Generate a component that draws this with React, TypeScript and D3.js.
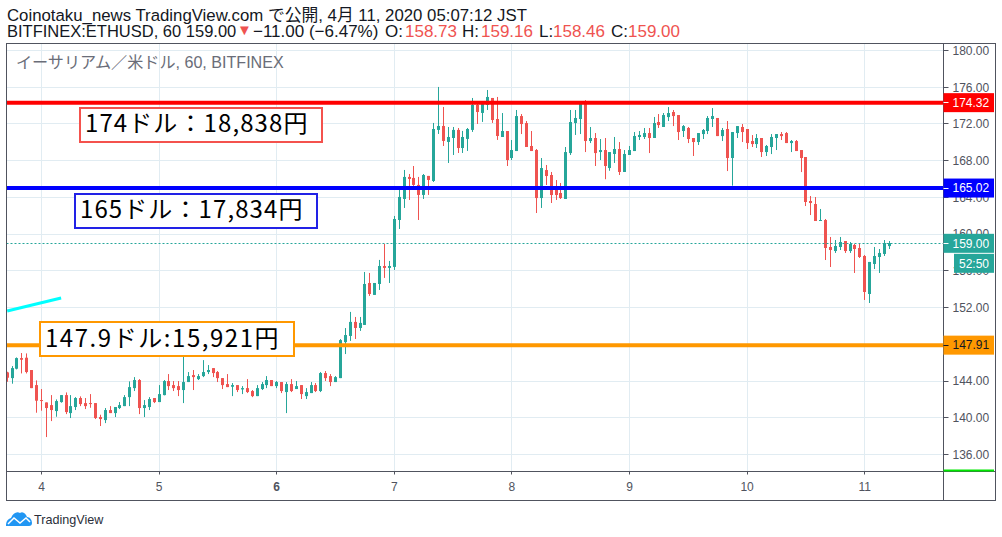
import * as d3 from 'd3'

// hourly ETHUSD candles, first one sits 7 bars left of the "4" tick
const firstBar = -7

const opens = [
  144.94, 144.32, 145.34, 146.5, 146.54, 145.2, 143.56, 141.93, 141.67, 141.38,
  140.73, 141.71, 142.47, 140.51, 141.17, 142.15, 141.6, 141.6, 141.6, 140.08,
  139.75, 140.84, 140.51, 141.06, 141.27, 142.25, 143.23, 144.11, 141.06, 141.17,
  142.15, 141.71, 142.47, 144.0, 143.56, 143.45, 143.02, 143.89, 144.65, 144.21,
  144.54, 144.98, 145.41, 144.98, 144.32, 143.67, 143.38, 143.56, 143.09, 143.23,
  142.91, 142.36, 143.13, 143.56, 144.11, 143.45, 143.89, 142.8, 143.67, 143.13,
  143.56, 142.36, 142.69, 143.56, 142.91, 144.87, 144.54, 143.89, 144.32, 148.24,
  148.91, 150.44, 149.78, 150.11, 154.68, 153.38, 154.57, 156.53, 156.32, 156.43,
  161.54, 163.83, 166.23, 166.12, 165.36, 164.27, 166.34, 165.79, 171.35, 171.78,
  170.04, 170.47, 171.35, 169.38, 170.37, 171.35, 174.07, 173.2, 174.07, 174.83,
  172.54, 170.58, 171.23, 168.29, 169.05, 172.86, 172.1, 169.6, 169.16, 163.93,
  166.98, 166.44, 164.81, 164.48, 163.83, 168.83, 172.1, 172.54, 174.28, 170.14,
  170.47, 168.94, 169.16, 167.2, 168.73, 169.27, 166.77, 168.62, 169.05, 170.58,
  170.58, 171.01, 170.47, 172.21, 171.67, 172.75, 173.3, 172.97, 171.23, 171.56,
  170.47, 170.03, 170.9, 171.23, 172.54, 172.65, 170.68, 171.45, 168.29, 171.01,
  171.67, 171.45, 170.14, 169.81, 170.47, 168.94, 169.49, 170.47, 170.9, 171.01,
  169.92, 170.14, 169.16, 168.4, 163.61, 163.28, 161.43, 161.54, 158.6, 158.16,
  158.6, 159.25, 158.16, 158.82, 158.49, 157.62, 153.48, 156.75, 157.51, 157.84, 158.7,
]

const closes = [
  144.36, 145.41, 146.5, 146.32, 144.98, 143.23, 141.86, 141.86, 141.06, 140.84,
  141.82, 142.47, 140.62, 141.27, 142.15, 141.49, 141.27, 141.49, 139.97, 139.86,
  140.84, 140.51, 141.17, 141.38, 142.25, 143.34, 144.11, 141.06, 141.38, 142.04,
  141.71, 142.58, 144.0, 143.45, 143.23, 143.02, 143.89, 144.54, 144.43, 144.54,
  144.98, 145.2, 144.87, 144.32, 143.56, 143.34, 143.56, 143.02, 143.23, 142.8,
  142.36, 143.23, 143.67, 144.11, 143.45, 143.89, 142.91, 143.67, 142.91, 143.45,
  142.58, 142.8, 143.56, 142.91, 144.87, 144.32, 143.89, 144.43, 148.46, 149.01,
  150.44, 149.78, 150.33, 154.57, 153.48, 154.68, 156.53, 156.32, 156.53, 161.65,
  164.05, 166.23, 166.01, 165.36, 164.27, 166.44, 165.9, 171.45, 171.78, 170.15,
  170.58, 171.35, 169.38, 170.58, 171.45, 174.07, 173.3, 174.18, 174.94, 172.43,
  170.69, 171.23, 168.07, 169.16, 172.86, 171.99, 169.49, 169.05, 163.93, 167.2,
  166.33, 164.26, 164.26, 163.93, 168.94, 172.21, 172.65, 174.28, 170.14, 170.47,
  168.83, 169.16, 167.42, 168.94, 169.27, 166.77, 168.73, 169.16, 170.69, 170.8,
  171.01, 170.47, 172.1, 171.88, 172.97, 173.19, 172.86, 171.12, 171.77, 170.36,
  170.03, 171.01, 171.34, 172.65, 172.86, 170.68, 171.34, 168.29, 171.12, 171.77,
  171.12, 169.92, 169.81, 170.47, 168.94, 169.6, 170.58, 170.9, 170.68, 169.92,
  170.14, 169.05, 168.29, 163.5, 163.39, 161.43, 161.54, 158.49, 158.27, 158.71,
  159.14, 158.16, 158.93, 158.38, 157.51, 153.7, 156.97, 157.62, 157.95, 159.03, 159.03,
]

const highs = [
  145.01, 145.63, 146.57, 147.05, 147.01, 145.2, 144.07, 143.13, 141.67, 142.47,
  142.0, 142.47, 142.76, 142.47, 142.25, 142.33, 142.15, 142.58, 141.6, 140.33,
  141.06, 141.27, 141.17, 141.71, 142.47, 143.96, 144.43, 144.21, 141.93, 142.25,
  142.15, 143.56, 144.11, 144.76, 144.0, 144.0, 146.65, 144.98, 145.2, 144.76,
  146.28, 145.74, 145.41, 145.09, 144.32, 144.76, 143.78, 143.56, 143.45, 144.21,
  143.02, 143.56, 143.89, 144.54, 144.11, 144.0, 143.89, 143.89, 144.21, 144.0,
  143.56, 143.23, 143.89, 143.78, 144.98, 145.09, 144.76, 144.54, 148.57, 149.77,
  151.53, 150.98, 150.98, 155.88, 155.77, 154.68, 157.19, 158.93, 157.08, 161.98,
  164.81, 166.99, 166.55, 167.42, 166.23, 166.55, 166.34, 172.11, 176.03, 173.85,
  171.67, 171.67, 171.56, 171.24, 171.56, 174.83, 174.5, 174.29, 175.7, 174.83,
  174.94, 173.19, 171.23, 170.25, 173.52, 173.08, 172.32, 171.23, 169.27, 168.29,
  167.53, 166.77, 165.89, 165.57, 169.49, 173.52, 173.52, 174.28, 174.6, 171.67,
  171.01, 170.36, 170.47, 168.94, 170.58, 170.03, 169.16, 169.6, 171.12, 171.23,
  171.56, 171.56, 172.76, 173.08, 173.19, 173.84, 173.52, 172.97, 171.88, 171.67,
  170.47, 171.01, 171.45, 172.86, 173.73, 172.65, 171.56, 172.32, 171.12, 171.77,
  171.99, 171.45, 170.79, 170.9, 170.47, 169.71, 170.9, 170.9, 171.12, 171.12,
  170.25, 170.25, 169.16, 168.4, 164.15, 164.04, 162.74, 161.65, 159.69, 159.36,
  159.69, 159.25, 159.14, 158.93, 158.93, 157.73, 156.97, 158.6, 158.38, 159.36, 159.25,
]

const lows = [
  143.92, 143.71, 145.27, 144.83, 144.83, 143.23, 140.55, 140.77, 137.9, 139.64,
  140.11, 141.64, 140.4, 139.97, 140.84, 141.27, 140.95, 141.09, 139.86, 139.1,
  139.42, 140.51, 140.08, 140.95, 141.27, 141.27, 142.91, 140.4, 140.08, 140.84,
  141.6, 141.71, 142.44, 143.02, 142.91, 142.36, 141.6, 143.89, 143.02, 144.11,
  144.43, 144.76, 144.43, 143.89, 143.13, 143.34, 142.36, 142.8, 142.58, 142.69,
  142.25, 142.36, 143.02, 143.23, 143.45, 143.23, 142.69, 140.51, 142.8, 143.13,
  142.04, 142.04, 142.69, 142.8, 142.8, 144.0, 143.45, 143.89, 144.32, 146.94,
  148.37, 148.58, 149.46, 150.11, 153.27, 153.38, 153.92, 155.23, 154.68, 156.1,
  160.56, 162.85, 163.72, 165.25, 161.54, 163.83, 164.27, 165.68, 170.91, 169.6,
  167.75, 168.62, 168.84, 168.84, 169.06, 171.13, 172.0, 172.22, 173.52, 172.11,
  170.26, 170.58, 167.42, 168.07, 169.05, 170.9, 169.49, 169.05, 162.3, 162.85,
  165.35, 163.39, 163.72, 163.83, 163.83, 168.62, 170.8, 170.9, 168.94, 169.92,
  167.42, 168.07, 165.98, 166.9, 167.75, 166.44, 166.77, 168.62, 169.05, 170.25,
  170.36, 168.83, 170.47, 171.56, 171.67, 172.32, 171.77, 170.25, 170.58, 169.92,
  168.51, 169.71, 170.36, 170.9, 171.67, 170.68, 170.14, 166.87, 165.28, 170.47,
  170.03, 169.27, 169.49, 169.38, 168.4, 168.51, 168.72, 169.16, 170.25, 169.92,
  168.94, 169.05, 166.76, 163.06, 162.08, 161.43, 161.43, 157.18, 156.42, 157.95,
  158.27, 157.95, 157.95, 155.77, 157.4, 152.83, 152.5, 156.2, 155.77, 157.62, 158.38,
]

const priceTicks = [180, 176, 172, 168, 164, 160, 156, 152, 148, 144, 140, 136]
const dayTicks = [
  { bar: 0, label: '4' },
  { bar: 24, label: '5' },
  { bar: 48, label: '6' },
  { bar: 72, label: '7' },
  { bar: 96, label: '8' },
  { bar: 120, label: '9' },
  { bar: 144, label: '10' },
  { bar: 168, label: '11' },
]

const levels = [
  { price: 174.32, color: '#ff0000' },
  { price: 165.02, color: '#0000ff' },
  { price: 147.91, color: '#ff9800' },
]
const lastPrice = 159.0
const countdown = '52:50'
const trendBars = [-7, 4]
const trendPrices = [151.62, 153.04]

const notes = [
  { text: '174ドル：18,838円', color: '#f4524d', x: 80, y: 108, w: 242, tx: 85, ty: 132, spacing: 1.1 },
  { text: '165ドル：17,834円', color: '#2222e6', x: 75, y: 194, w: 242, tx: 80, ty: 218, spacing: 1.1 },
  { text: '147.9ドル:15,921円', color: '#ff9800', x: 40, y: 322, w: 254, tx: 45, ty: 347, spacing: 1.55 },
]

const width = 1002
const height = 537
const plot = { left: 6.5, right: 943.5, top: 43.5, bottom: 471.5 }
const frameRight = 995.5
const frameBottom = 500.5

const green = '#26a69a'
const red = '#ef5350'
const axisColor = '#50535e'
const gridColor = '#e1ecf2'
const uiFont = '"Liberation Sans", "Noto Sans CJK JP", sans-serif'

const xScale = d3.scaleLinear().domain([0, 168]).range([41.5, 864.7])
const yScale = d3.scaleLinear().domain([136, 180]).range([454.5, 50.5])
const snap = (v: number) => Math.floor(v) + 0.5

const candles = d3.range(opens.length).map((i) => ({
  bar: firstBar + i,
  open: opens[i],
  high: highs[i],
  low: lows[i],
  close: closes[i],
}))

const trendLine = d3
  .line<number>()
  .x((bar) => xScale(bar))
  .y((_, i) => yScale(trendPrices[i]))

function PriceTag({ price, fill, textFill = '#fff' }: { price: number; fill: string; textFill?: string }) {
  const y = yScale(price)
  return (
    <g>
      <rect x={plot.right} y={y - 9.5} width={50.5} height={19} fill={fill} />
      <line x1={plot.right} x2={plot.right + 5} y1={snap(y)} y2={snap(y)} stroke={textFill} />
      <text x={952.5} y={y + 4.3} fontSize={12} fill={textFill}>
        {price.toFixed(2)}
      </text>
    </g>
  )
}

export default function App() {
  const lastY = yScale(lastPrice)
  return (
    <svg
      width={width}
      height={height}
      style={{ position: 'absolute', left: 0, top: 0, background: '#fff' }}
      fontFamily={uiFont}
    >
      <defs>
        <clipPath id="pane">
          <rect x={plot.left} y={plot.top} width={plot.right - plot.left} height={plot.bottom - plot.top} />
        </clipPath>
      </defs>

      <text x={7} y={20.5} fontSize={16.8} fill="#131722">
        Coinotaku_news TradingView.com で公開, 4月 11, 2020 05:07:12 JST
      </text>
      <text y={37} fontSize={17} fill="#131722">
        <tspan x={7} fontSize={16.5}>BITFINEX:ETHUSD, 60 159.00</tspan>
        <tspan x={237} fill={red} fontSize={15} dy={-2}>▼</tspan>
        <tspan x={253} dy={2}>−11.00 (−6.47%)</tspan>
        <tspan x={385}>O:</tspan>
        <tspan x={405} fill={red}>158.73</tspan>
        <tspan x={462}>H:</tspan>
        <tspan x={481} fill={red}>159.16</tspan>
        <tspan x={539}>L:</tspan>
        <tspan x={553} fill={red}>158.46</tspan>
        <tspan x={611}>C:</tspan>
        <tspan x={628} fill={red}>159.00</tspan>
      </text>

      <g clipPath="url(#pane)">
        {priceTicks.map((p) => (
          <line key={p} x1={plot.left} x2={plot.right} y1={snap(yScale(p))} y2={snap(yScale(p))} stroke={gridColor} />
        ))}
        {dayTicks.map((d) => (
          <line key={d.bar} x1={snap(xScale(d.bar))} x2={snap(xScale(d.bar))} y1={plot.top} y2={plot.bottom} stroke={gridColor} />
        ))}

        <text x={16} y={68} fontSize={16.1} fill="#6a6d78">
          イーサリアム／米ドル, 60, BITFINEX
        </text>

        {candles.map((c) => {
          const up = c.close >= c.open
          const color = up ? green : red
          const cx = snap(xScale(c.bar))
          const top = yScale(Math.max(c.open, c.close))
          const bottom = yScale(Math.min(c.open, c.close))
          return (
            <g key={c.bar}>
              <line x1={cx} x2={cx} y1={yScale(c.high)} y2={yScale(c.low)} stroke={color} />
              <rect x={cx - 1.5} y={top} width={3} height={Math.max(1, bottom - top)} fill={color} />
            </g>
          )
        })}

        <line
          x1={plot.left}
          x2={plot.right}
          y1={snap(lastY)}
          y2={snap(lastY)}
          stroke={green}
          strokeDasharray="2 2"
        />
        {levels.map((l) => (
          <line
            key={l.price}
            x1={plot.left}
            x2={plot.right}
            y1={yScale(l.price)}
            y2={yScale(l.price)}
            stroke={l.color}
            strokeWidth={4}
          />
        ))}
        <path d={trendLine(trendBars) ?? ''} fill="none" stroke="#00ffff" strokeWidth={3} />

        {notes.map((n) => (
          <g key={n.text}>
            <rect x={n.x} y={n.y} width={n.w} height={34} fill="#fff" stroke={n.color} strokeWidth={2} />
            <text
              x={n.tx}
              y={n.ty}
              fontSize={24}
              fill="#000"
              letterSpacing={n.spacing}
              fontFamily='"Noto Sans CJK JP", "Liberation Sans", sans-serif'
            >
              {n.text}
            </text>
          </g>
        ))}
      </g>

      {/* axes and frame */}
      <rect
        x={plot.left}
        y={plot.top}
        width={frameRight - plot.left}
        height={frameBottom - plot.top}
        fill="none"
        stroke={axisColor}
      />
      <line x1={plot.right} x2={plot.right} y1={plot.top} y2={frameBottom} stroke={axisColor} />
      <line x1={plot.left} x2={frameRight} y1={plot.bottom} y2={plot.bottom} stroke={axisColor} />

      {priceTicks.map((p) => (
        <g key={p}>
          <line x1={plot.right} x2={plot.right + 5} y1={snap(yScale(p))} y2={snap(yScale(p))} stroke={axisColor} />
          <text x={952.5} y={yScale(p) + 4.3} fontSize={12} fill={axisColor}>
            {p.toFixed(2)}
          </text>
        </g>
      ))}
      {dayTicks.map((d) => (
        <g key={d.bar}>
          <line x1={snap(xScale(d.bar))} x2={snap(xScale(d.bar))} y1={plot.bottom} y2={plot.bottom + 3} stroke={axisColor} />
          <text
            x={xScale(d.bar)}
            y={491}
            fontSize={12}
            textAnchor="middle"
            fill={axisColor}
            fontWeight={d.label === '6' ? 'bold' : 'normal'}
          >
            {d.label}
          </text>
        </g>
      ))}

      <PriceTag price={levels[0].price} fill={levels[0].color} />
      <PriceTag price={levels[1].price} fill={levels[1].color} />
      <PriceTag price={levels[2].price} fill={levels[2].color} textFill="#131722" />
      <PriceTag price={lastPrice} fill={green} />
      <rect x={954} y={lastY + 10.5} width={40} height={19} fill={green} />
      <text x={974} y={lastY + 24.3} fontSize={12} textAnchor="middle" fill="#fff">
        {countdown}
      </text>
      <rect x={plot.right} y={469.5} width={50.5} height={2} fill="#00e600" />

      {/* TradingView mark */}
      <path
        d="M6 526 C6 521 8 519 11 518 C13 513 17 511 20 513 C23 511 26 514 27 517 C30 517 32 520 32 523 C32 525 31 526 29 526 Z"
        fill="#2196f3"
      />
      <path d="M8 524 L14 518 L20 523 L26 518 L30 522" fill="none" stroke="#fff" strokeWidth={1.5} />
      <text x={34} y={523.5} fontSize={12.6} fill="#2a2e39">
        TradingView
      </text>
    </svg>
  )
}
